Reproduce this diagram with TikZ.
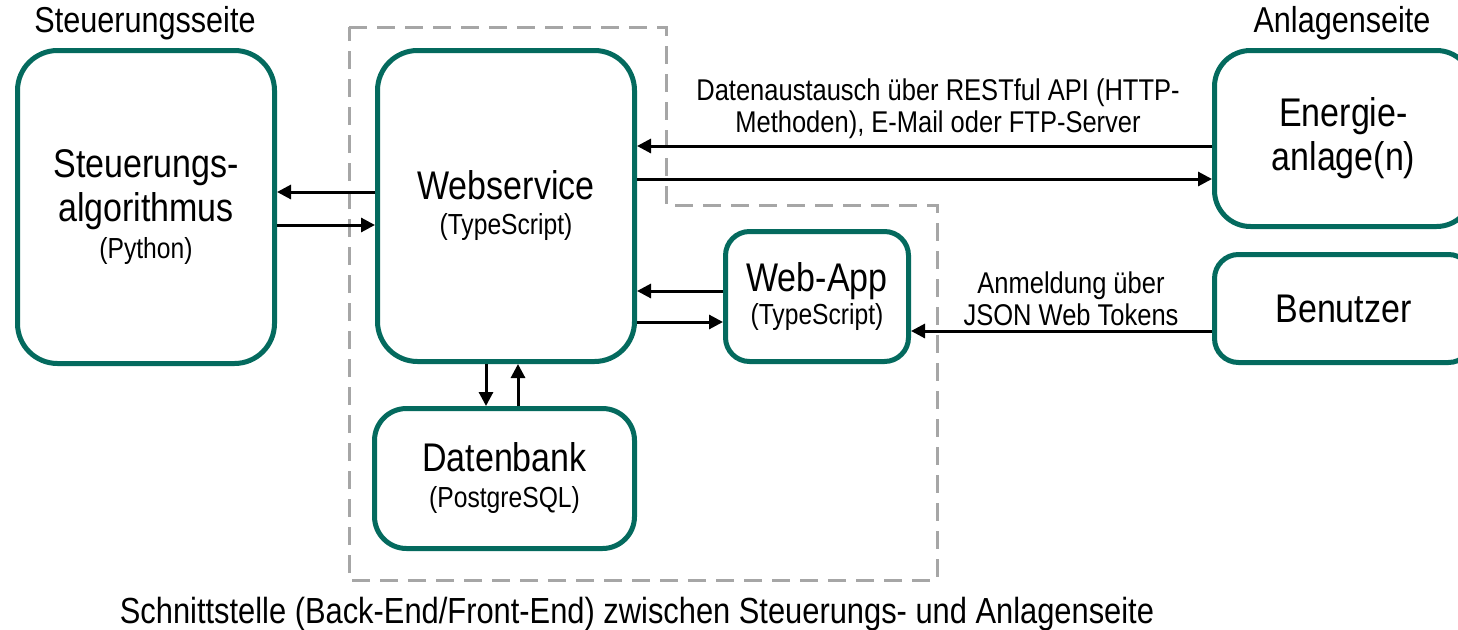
\documentclass[tikz,border=0pt]{standalone}
\usepackage{fontspec}
\setmainfont[FakeStretch=0.85]{Liberation Sans}
\usetikzlibrary{arrows.meta}
\definecolor{tealb}{RGB}{4,106,94}
\definecolor{dashgray}{RGB}{166,166,166}
\newcommand{\bigf}{\fontsize{40}{44}\selectfont}
\newcommand{\smallf}{\fontsize{29}{44}\selectfont}
\newcommand{\lblf}{\fontsize{30}{32}\selectfont}
\begin{document}
\begin{tikzpicture}[x=1pt,y=-1pt,
  box/.style={draw=tealb,line width=5pt,rounded corners=#1,fill=white,inner sep=0pt,align=center,font=\bigf},
  box/.default=30pt,
  arr/.style={-{Triangle[length=14pt,width=14pt]},line width=3pt},
  lbl/.style={inner sep=0pt,align=center,font=\lblf}]
\useasboundingbox (0,0) rectangle (1458,629);
\draw[dashgray,line width=3pt,dash pattern=on 18pt off 10pt]
  (349,27) -- (666,27) -- (666,205) -- (937,205) -- (937,580) -- (349,580) -- cycle;
\node[box=40pt,minimum width=257pt,minimum height=313pt] (sa) at (146,207)
  {Steuerungs-\\algorithmus\\[-7pt]\smallf (Python)};
\node[box=40pt,minimum width=257pt,minimum height=311pt] (ws) at (506,206)
  {\raisebox{-4pt}{Webservice}\\[-5pt]\smallf (TypeScript)};
\node[box=32pt,minimum width=260pt,minimum height=140pt] (db) at (504.5,478.5)
  {\raisebox{-3pt}{Datenbank}\\[-7pt]\smallf \raisebox{-2pt}{(PostgreSQL)}};
\node[box=24pt,minimum width=183pt,minimum height=130pt] (wa) at (817,296.5)
  {\raisebox{-4pt}{Web-App}\\[-7pt]\smallf (TypeScript)};
\node[box=36pt,minimum width=258pt,minimum height=176pt] (ea) at (1343.5,138.5)
  {Energie-\\anlage(n)};
\node[box=24pt,minimum width=258pt,minimum height=108pt] (bn) at (1343.5,308.5)
  {Benutzer};
\node[lbl,font=\fontsize{36}{40}\selectfont] (hl) at (145,23) {Steuerungsseite};
\node[lbl,font=\fontsize{36}{40}\selectfont] (hr) at (1342,23) {Anlagenseite};
\node[lbl] (l1) at (938,109) {Datenaustausch über RESTful API (HTTP-\\Methoden), E-Mail oder FTP-Server};
\node[lbl] (l2) at (1071,299) {Anmeldung über\\JSON Web Tokens};
\node[lbl,font=\fontsize{36.3}{40}\selectfont] (bt) at (637,614) {Schnittstelle (Back-End/Front-End) zwischen Steuerungs- und Anlagenseite};
\draw[arr] (ws.west |- 0,192) -- (sa.east |- 0,192);
\draw[arr] (sa.east |- 0,225) -- (ws.west |- 0,225);
\draw[arr] (ea.west |- 0,146) -- (ws.east |- 0,146);
\draw[arr] (ws.east |- 0,179) -- (ea.west |- 0,179);
\draw[arr] (wa.west |- 0,291) -- (ws.east |- 0,291);
\draw[arr] (ws.east |- 0,322) -- (wa.west |- 0,322);
\draw[arr] (bn.west |- 0,331) -- (wa.east |- 0,331);
\draw[arr] (ws.south -| 486,0) -- (db.north -| 486,0);
\draw[arr] (db.north -| 518,0) -- (ws.south -| 518,0);
\end{tikzpicture}
\end{document}
